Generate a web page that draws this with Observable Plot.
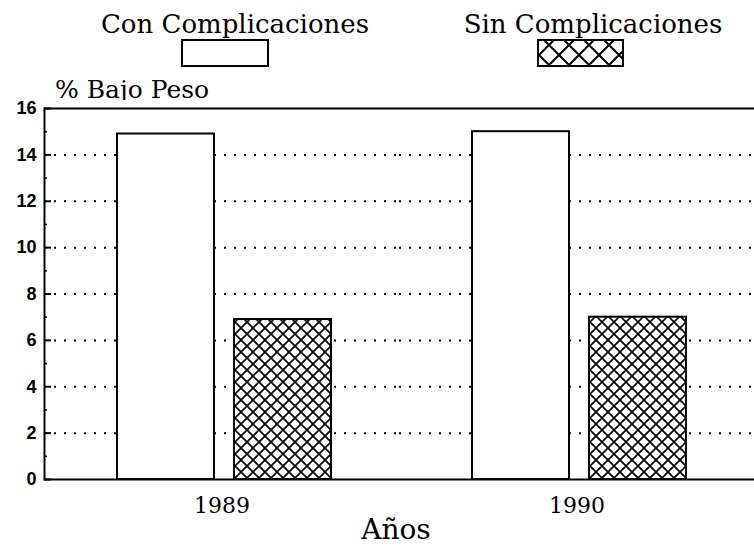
<!DOCTYPE html>
<html><head><meta charset="utf-8">
<script src="https://cdn.jsdelivr.net/npm/d3@7"></script>
<script src="https://cdn.jsdelivr.net/npm/@observablehq/plot@0.6"></script>
<style>
  html,body{margin:0;padding:0;background:#fff;}
  body{position:relative;width:754px;height:550px;overflow:hidden;font-family:"DejaVu Serif",serif;color:#000;}
  .abs{position:absolute;white-space:nowrap;}
  .lt{font-size:26px;line-height:26px;text-align:center;top:11px;}
  #ylabel{font-size:25px;line-height:25px;left:55px;top:77px;}
  #xlabel{font-size:28px;line-height:28px;left:346px;width:100px;text-align:center;top:516px;}
  #chart{position:absolute;left:0;top:100px;}
</style></head><body>
<div class="abs lt" style="left:95px;width:280px;">Con Complicaciones</div>
<div class="abs" style="left:181px;top:39px;width:84px;height:24px;border:2px solid #000;background:#fff;"></div>
<div class="abs lt" style="left:458px;width:270px;">Sin Complicaciones</div>
<svg class="abs" style="left:537px;top:39px;" width="87" height="28">
  <defs>
    <pattern id="lhatch" patternUnits="userSpaceOnUse" width="20" height="20" x="2" y="-4">
      <rect width="20" height="20" fill="#fff"/>
      <path d="M0,0L20,20M20,0L0,20" stroke="#000" stroke-width="2"/>
    </pattern>
  </defs>
  <rect x="1" y="1" width="85" height="26" fill="url(#lhatch)" stroke="#000" stroke-width="2"/>
</svg>
<div class="abs" id="ylabel">% Bajo Peso</div>
<div id="chart"></div>
<div class="abs" id="xlabel">Años</div>
<script>
const years = ["1989", "1990"];
const series = ["Con Complicaciones", "Sin Complicaciones"];
const conValues = [14.9, 15.0];
const sinValues = [6.9, 7.0];
const yTicks = [0, 2, 4, 6, 8, 10, 12, 14, 16];
const yMinorTicks = [1, 3, 5, 7, 9, 11, 13, 15];
const gridValues = [2, 4, 6, 8, 10, 12, 14];

const data = years.flatMap((year, i) => [
  {year, series: series[0], value: conValues[i]},
  {year, series: series[1], value: sinValues[i]}
]);

const svg = Plot.plot({
  width: 754,
  height: 420,
  marginTop: 8,
  marginBottom: 41,
  marginLeft: 43,
  marginRight: 0,
  style: {fontFamily: "Liberation Sans", fontSize: "18px", background: "white", color: "black", overflow: "visible"},
  fx: {domain: years, padding: 0, label: null},
  x: {domain: series, axis: null, paddingInner: 0.17, paddingOuter: 0.59, align: 0.516},
  y: {domain: [0, 16], label: null},
  color: {domain: series, range: ["white", "url(#xhatch)"]},
  marks: [
    Plot.ruleY(gridValues, {stroke: "black", strokeWidth: 2, strokeDasharray: "2,8"}),
    Plot.barY(data, {fx: "year", x: "series", y: "value", fill: "series", stroke: "black", strokeWidth: 2}),
    Plot.ruleY([0, 16], {stroke: "black", strokeWidth: 2}),
    Plot.frame({anchor: "left", facetAnchor: "left", stroke: "black", strokeWidth: 2}),
    Plot.axisY(yTicks, {tickSize: -7, tickPadding: 15, strokeWidth: 2, label: null, fontSize: 18, fontWeight: "bold", fontFamily: "Liberation Sans"}),
    Plot.axisY(yMinorTicks, {tickSize: -3, text: null, strokeWidth: 1.5, label: null}),
    Plot.axisFx({anchor: "bottom", tickSize: 0, tickPadding: 18, label: null, fontFamily: "DejaVu Serif", fontSize: 22})
  ]
});

const defs = d3.select(svg).insert("defs", ":first-child");
const pat = defs.append("pattern")
  .attr("id", "xhatch").attr("patternUnits", "userSpaceOnUse")
  .attr("width", 12).attr("height", 12);
pat.append("rect").attr("width", 12).attr("height", 12).attr("fill", "white");
pat.append("path").attr("d", "M0,0L12,12M12,0L0,12").attr("stroke", "black").attr("stroke-width", 1.7);

document.getElementById("chart").appendChild(svg);
</script>
</body></html>
